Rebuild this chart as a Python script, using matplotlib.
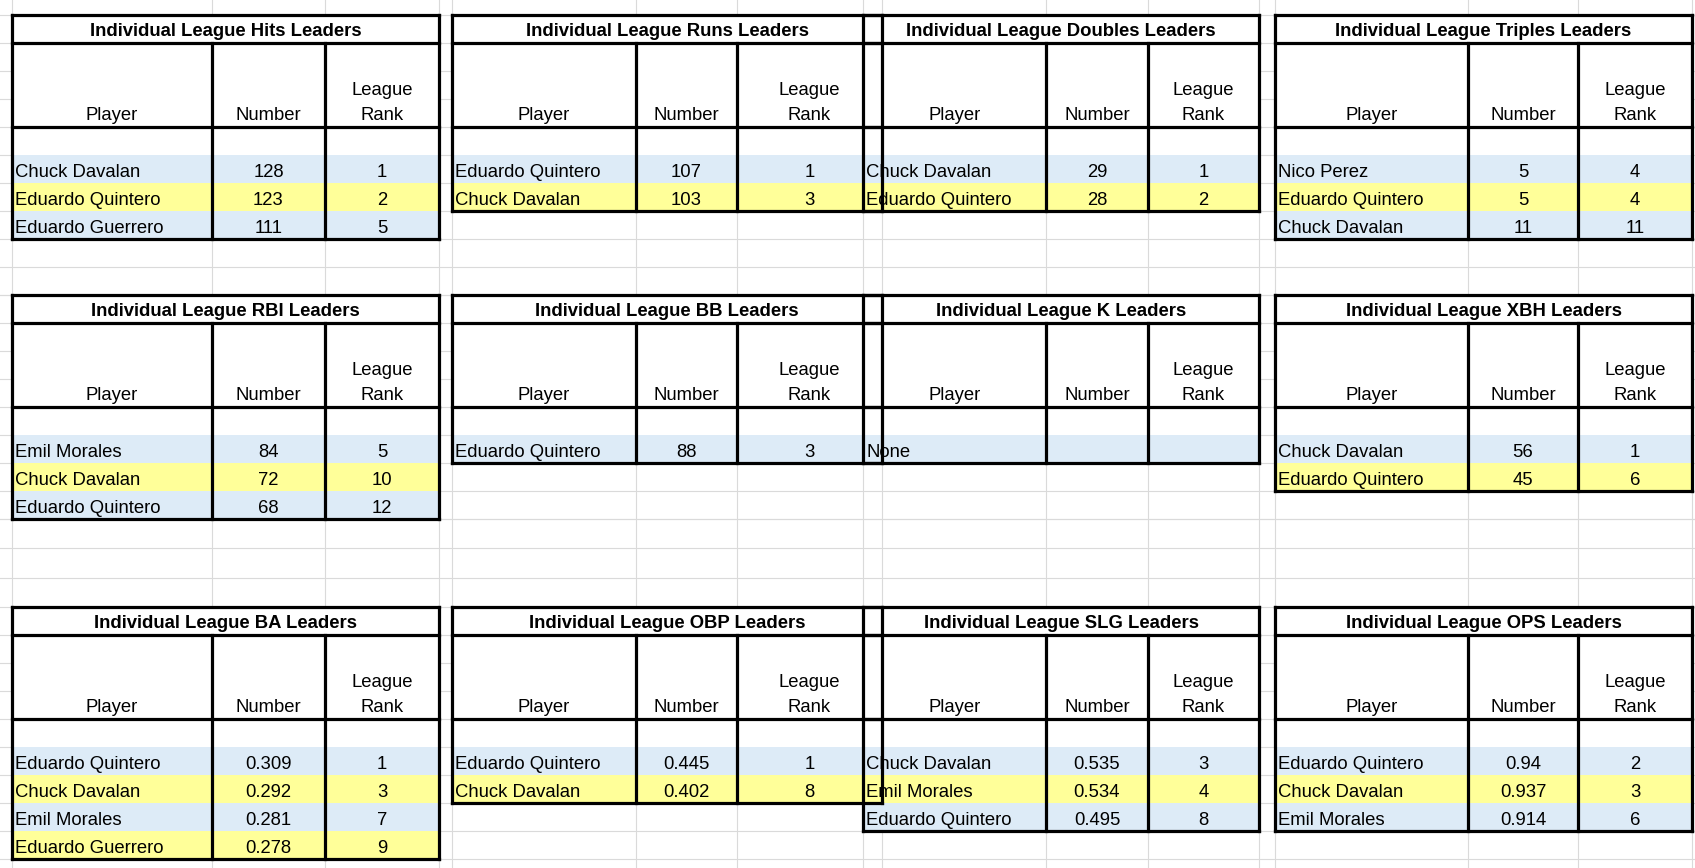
import matplotlib.pyplot as plt

plt.rcParams['font.family'] = ['Liberation Sans', 'DejaVu Sans']

W, H = 1695, 868
BLUE = '#DDEBF7'
YELLOW = '#FFFF99'
RH = 28

# column boundaries of each table column group (left, sep1, sep2, right)
col_sets = [(12, 212, 325, 439), (452, 636, 737, 882),
            (863, 1046, 1148, 1259), (1275, 1468, 1578, 1692)]
block_tops = [15, 295, 607]

titles = ["Individual League Hits Leaders", "Individual League Runs Leaders",
          "Individual League Doubles Leaders", "Individual League Triples Leaders",
          "Individual League RBI Leaders", "Individual League BB Leaders",
          "Individual League K Leaders", "Individual League XBH Leaders",
          "Individual League BA Leaders", "Individual League OBP Leaders",
          "Individual League SLG Leaders", "Individual League OPS Leaders"]

players = [["Chuck Davalan", "Eduardo Quintero", "Eduardo Guerrero"],
           ["Eduardo Quintero", "Chuck Davalan"],
           ["Chuck Davalan", "Eduardo Quintero"],
           ["Nico Perez", "Eduardo Quintero", "Chuck Davalan"],
           ["Emil Morales", "Chuck Davalan", "Eduardo Quintero"],
           ["Eduardo Quintero"],
           ["None"],
           ["Chuck Davalan", "Eduardo Quintero"],
           ["Eduardo Quintero", "Chuck Davalan", "Emil Morales", "Eduardo Guerrero"],
           ["Eduardo Quintero", "Chuck Davalan"],
           ["Chuck Davalan", "Emil Morales", "Eduardo Quintero"],
           ["Eduardo Quintero", "Chuck Davalan", "Emil Morales"]]
numbers = [["128", "123", "111"], ["107", "103"], ["29", "28"], ["5", "5", "11"],
           ["84", "72", "68"], ["88"], [""], ["56", "45"],
           ["0.309", "0.292", "0.281", "0.278"], ["0.445", "0.402"],
           ["0.535", "0.534", "0.495"], ["0.94", "0.937", "0.914"]]
ranks = [["1", "2", "5"], ["1", "3"], ["1", "2"], ["4", "4", "11"],
         ["5", "10", "12"], ["3"], [""], ["1", "6"],
         ["1", "3", "7", "9"], ["1", "8"], ["3", "4", "8"], ["2", "3", "6"]]

fig = plt.figure(figsize=(W / 100, H / 100), dpi=100)
ax = fig.add_axes([0, 0, 1, 1])
ax.set_xlim(0, W)
ax.set_ylim(H, 0)
ax.axis('off')

# faint spreadsheet grid
vx = sorted({x for cs in col_sets for x in cs})
for x in vx:
    ax.axvline(x, color='#DADADA', lw=0.8, zorder=0)
hy = [15 + RH * i for i in range(-1, 11)] + [295 + RH * i for i in range(9)] \
    + [519 + 29.3 * i for i in range(3)] + [607 + RH * i for i in range(10)]
for y in hy:
    ax.axhline(y, color='#DADADA', lw=0.8, zorder=0)

FS = 13.3
LW = 2.3
for k in range(12):
    x0, x1, x2, x3 = col_sets[k % 4]
    top = block_tops[k // 4]
    n = len(players[k])
    # row shading
    for i in range(n):
        yt = top + RH * (5 + i)
        c = BLUE if i % 2 == 0 else YELLOW
        ax.add_patch(plt.Rectangle((x0, yt), x3 - x0, RH, color=c, lw=0, zorder=1))
        ax.text(x0 + 3, yt + RH - 6, players[k][i], fontsize=FS, va='baseline', zorder=3)
        ax.text((x1 + x2) / 2, yt + RH - 6, numbers[k][i], fontsize=FS, ha='center', va='baseline', zorder=3)
        ax.text((x2 + x3) / 2, yt + RH - 6, ranks[k][i], fontsize=FS, ha='center', va='baseline', zorder=3)
    for xa, xb in [(x0, x1), (x1, x2), (x2, x3)]:
        ax.add_patch(plt.Rectangle((xa, top + RH), xb - xa, 3 * RH, color='white', lw=0, zorder=1))
        ax.add_patch(plt.Rectangle((xa, top + 4 * RH), xb - xa, RH, color='white', lw=0, zorder=1))
    ax.add_patch(plt.Rectangle((x0, top), x3 - x0, RH, color='white', lw=0, zorder=1))
    # title
    ax.text((x0 + x3) / 2, top + RH - 7, titles[k], fontsize=FS, fontweight='bold',
            ha='center', va='baseline', zorder=3)
    # headers
    hb = top + 4 * RH - 7
    ax.text((x0 + x1) / 2, hb, "Player", fontsize=FS, ha='center', va='baseline', zorder=3)
    ax.text((x1 + x2) / 2, hb, "Number", fontsize=FS, ha='center', va='baseline', zorder=3)
    ax.text((x2 + x3) / 2, hb, "Rank", fontsize=FS, ha='center', va='baseline', zorder=3)
    ax.text((x2 + x3) / 2, hb - RH + 3, "League", fontsize=FS, ha='center', va='baseline', zorder=3)
    # borders
    bot = top + RH * (5 + n)
    kw = dict(color='black', lw=LW, zorder=4, solid_capstyle='projecting')
    for y in [top, top + RH, top + 4 * RH, bot]:
        ax.plot([x0, x3], [y, y], **kw)
    for x in [x0, x3]:
        ax.plot([x, x], [top, bot], **kw)
    for x in [x1, x2]:
        ax.plot([x, x], [top + RH, bot], **kw)

fig.savefig('out.png', dpi=100)
